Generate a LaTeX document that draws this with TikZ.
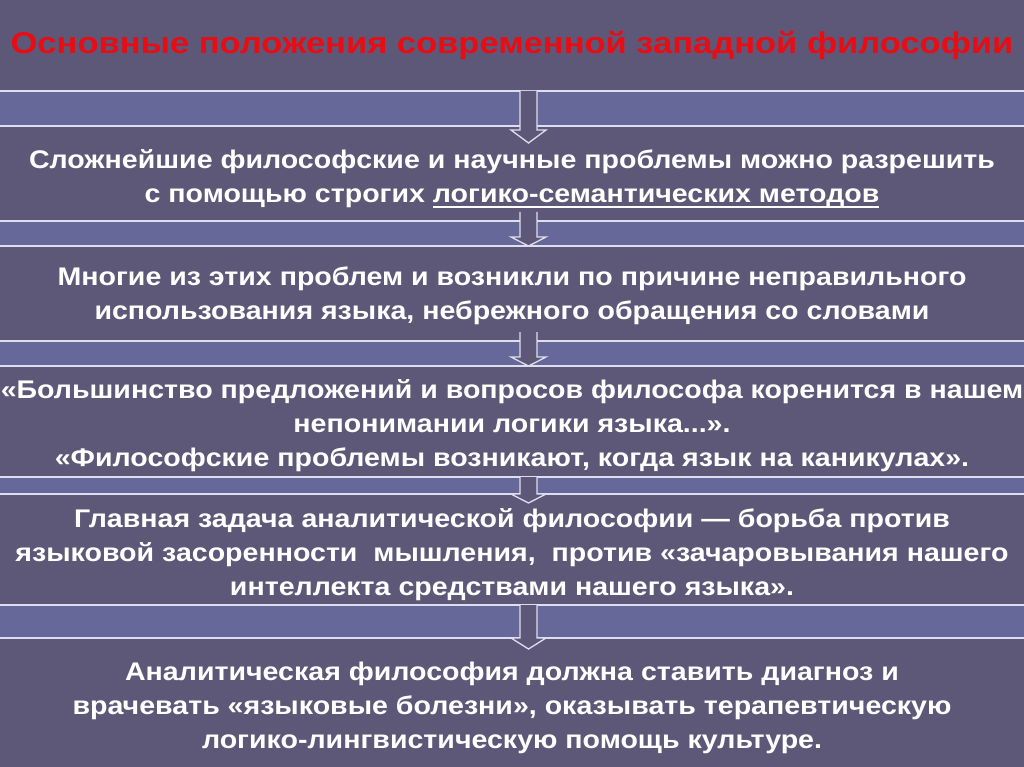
\documentclass[tikz,border=0pt]{standalone}
\usepackage{fontspec}
\setmainfont{Liberation Sans}
\newfontfamily\bodyfont[FakeStretch=1.12]{Liberation Sans}
\newfontfamily\titlefont[FakeStretch=1.15]{Liberation Sans}
\newcommand\ulx[1]{\setbox0\hbox{#1}\rlap{\rule[-6pt]{\wd0}{2pt}}\box0}
\begin{document}
\begin{tikzpicture}[x=1pt,y=-1pt,
  bodytext/.style={text=white,font=\bodyfont\bfseries\fontsize{25.5}{34}\selectfont,align=center,inner sep=0pt},
  titletext/.style={text=titlered,font=\titlefont\bfseries\fontsize{30}{36}\selectfont,inner sep=0pt},
  band/.style={fill=bandblue,draw=bandline,line width=1.2pt},
  blockarrow/.style={fill=bgdark,draw=bandline,line width=1.3pt,line join=miter}]
\definecolor{bgdark}{RGB}{94,88,120}
\definecolor{bandblue}{RGB}{101,104,152}
\definecolor{bandline}{RGB}{222,222,240}
\definecolor{titlered}{RGB}{232,12,20}
\fill[bgdark] (0,0) rectangle (1024,767);
\useasboundingbox (0,0) rectangle (1024,767);
% bands
\draw[band] (-2,91) rectangle (1026,126);
\draw[band] (-2,221) rectangle (1026,246);
\draw[band] (-2,341) rectangle (1026,366);
\draw[band] (-2,477) rectangle (1026,494);
\draw[band] (-2,605) rectangle (1026,638);
% text nodes
\node[titletext] (title) at (512,45) {Основные положения современной западной философии};
\node[bodytext] (t1) at (512,179) {Сложнейшие философские и научные проблемы можно разрешить\\с помощью строгих \ulx{логико-семантических методов}};
\node[bodytext] (t2) at (512,296) {Многие из этих проблем и возникли по причине неправильного\\использования языка, небрежного обращения со словами};
\node[bodytext] (t3) at (512,426) {«Большинство предложений и вопросов философа коренится в нашем\\непонимании логики языка...».\\«Философские проблемы возникают, когда язык на каникулах».};
\node[bodytext] (t4) at (512,555) {Главная задача аналитической философии — борьба против\\языковой засоренности\ \ мышления,\ \ против «зачаровывания нашего\\интеллекта средствами нашего языка».};
\node[bodytext] (t5) at (512,708) {Аналитическая философия должна ставить диагноз и\\врачевать «языковые болезни», оказывать терапевтическую\\логико-лингвистическую помощь культуре.};
% block arrows: #1 top, #2 head base, #3 tip
\newcommand{\blockarr}[3]{%
  \draw[blockarrow] (520,#1) -- (520,#2) -- (511,#2) -- (528.5,#3) -- (546,#2) -- (537,#2) -- (537,#1);}
\blockarr{91}{130}{143}
\blockarr{212}{237}{246}
\blockarr{332}{357}{366}
\blockarr{477}{494}{503}
\blockarr{605}{638}{649}
\end{tikzpicture}
\end{document}
